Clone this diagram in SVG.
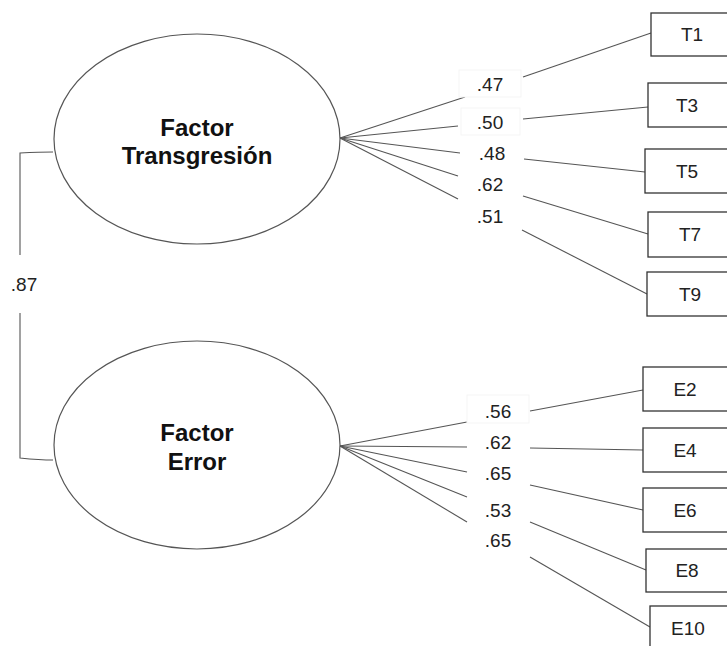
<svg xmlns="http://www.w3.org/2000/svg" width="727" height="646" viewBox="0 0 727 646">
<style>
.ell{fill:#fff;stroke:#555;stroke-width:1.2}
.box{fill:#fff;stroke:#333;stroke-width:1.3}
.lb{fill:#fff;stroke:#f5f5f5;stroke-width:1}
.ln{fill:none;stroke:#555;stroke-width:1.1}
.f{font-family:"Liberation Sans",Arial,sans-serif;font-weight:bold;font-size:24px;fill:#111;text-anchor:middle}
.t{font-family:"Liberation Sans",Arial,sans-serif;font-size:19px;fill:#222;text-anchor:middle}
</style>
<rect width="727" height="646" fill="#fff"/>
<g id="connectors">
<path class="ln" d="M53,152 Q40,152 20,153 L20,255"/>
<path class="ln" d="M20,313 L20,458 Q40,460 53,460"/>
<g id="top-lines">
<line class="ln" x1="340" y1="138" x2="465" y2="97"/>
<line class="ln" x1="340" y1="138" x2="458" y2="126"/>
<line class="ln" x1="340" y1="138" x2="460" y2="153"/>
<line class="ln" x1="340" y1="138" x2="458" y2="176"/>
<line class="ln" x1="340" y1="138" x2="458" y2="199"/>
<line class="ln" x1="523" y1="77" x2="651" y2="33"/>
<line class="ln" x1="523" y1="119" x2="648" y2="107"/>
<line class="ln" x1="524" y1="159" x2="645" y2="172"/>
<line class="ln" x1="523" y1="196" x2="648" y2="234"/>
<line class="ln" x1="522" y1="230" x2="647" y2="294"/>
</g>
<g id="bottom-lines">
<line class="ln" x1="340" y1="446" x2="467" y2="422"/>
<line class="ln" x1="340" y1="446" x2="467" y2="447"/>
<line class="ln" x1="340" y1="446" x2="467" y2="472"/>
<line class="ln" x1="340" y1="446" x2="467" y2="497"/>
<line class="ln" x1="340" y1="446" x2="467" y2="522"/>
<line class="ln" x1="530" y1="411" x2="643" y2="390"/>
<line class="ln" x1="530" y1="448" x2="643" y2="450"/>
<line class="ln" x1="530" y1="485" x2="643" y2="510"/>
<line class="ln" x1="530" y1="522" x2="646" y2="570"/>
<line class="ln" x1="530" y1="557" x2="650" y2="627"/>
</g>
<g id="loadings">
<rect class="lb" x="459" y="70" width="62" height="27"/><text class="t" x="490" y="91">.47</text>
<rect class="lb" x="461" y="108" width="59" height="27"/><text class="t" x="490" y="129">.50</text>
<text class="t" x="492" y="160">.48</text>
<text class="t" x="490" y="191">.62</text>
<text class="t" x="490" y="223">.51</text>
<rect class="lb" x="467" y="395" width="62" height="28"/><text class="t" x="498" y="418">.56</text>
<text class="t" x="498" y="449">.62</text>
<text class="t" x="498" y="480">.65</text>
<text class="t" x="498" y="517">.53</text>
<text class="t" x="498" y="547">.65</text>
<text class="t" x="24" y="291">.87</text>
</g>
</g>
<g id="factor-transgresion">
<ellipse class="ell" cx="197" cy="139" rx="143" ry="105"/>
<text class="f" x="197" y="136">Factor</text>
<text class="f" x="197" y="164">Transgresión</text>
</g>
<g id="factor-error">
<ellipse class="ell" cx="197" cy="445" rx="143" ry="104"/>
<text class="f" x="197" y="441">Factor</text>
<text class="f" x="197" y="470">Error</text>
</g>
<g id="T1"><rect class="box" x="651" y="13" width="90" height="43"/><text class="t" x="692" y="41">T1</text></g>
<g id="T3"><rect class="box" x="648" y="83" width="90" height="44"/><text class="t" x="687" y="112">T3</text></g>
<g id="T5"><rect class="box" x="645" y="149" width="90" height="44"/><text class="t" x="687" y="178">T5</text></g>
<g id="T7"><rect class="box" x="648" y="212" width="90" height="45"/><text class="t" x="690" y="241">T7</text></g>
<g id="T9"><rect class="box" x="647" y="272" width="90" height="44"/><text class="t" x="690" y="301">T9</text></g>
<g id="E2"><rect class="box" x="643" y="367" width="90" height="44"/><text class="t" x="685" y="396">E2</text></g>
<g id="E4"><rect class="box" x="643" y="428" width="90" height="44"/><text class="t" x="685" y="457">E4</text></g>
<g id="E6"><rect class="box" x="643" y="488" width="90" height="44"/><text class="t" x="685" y="517">E6</text></g>
<g id="E8"><rect class="box" x="646" y="549" width="90" height="43"/><text class="t" x="687" y="577">E8</text></g>
<g id="E10"><rect class="box" x="650" y="606" width="90" height="44"/><text class="t" x="688" y="635">E10</text></g>
</svg>
